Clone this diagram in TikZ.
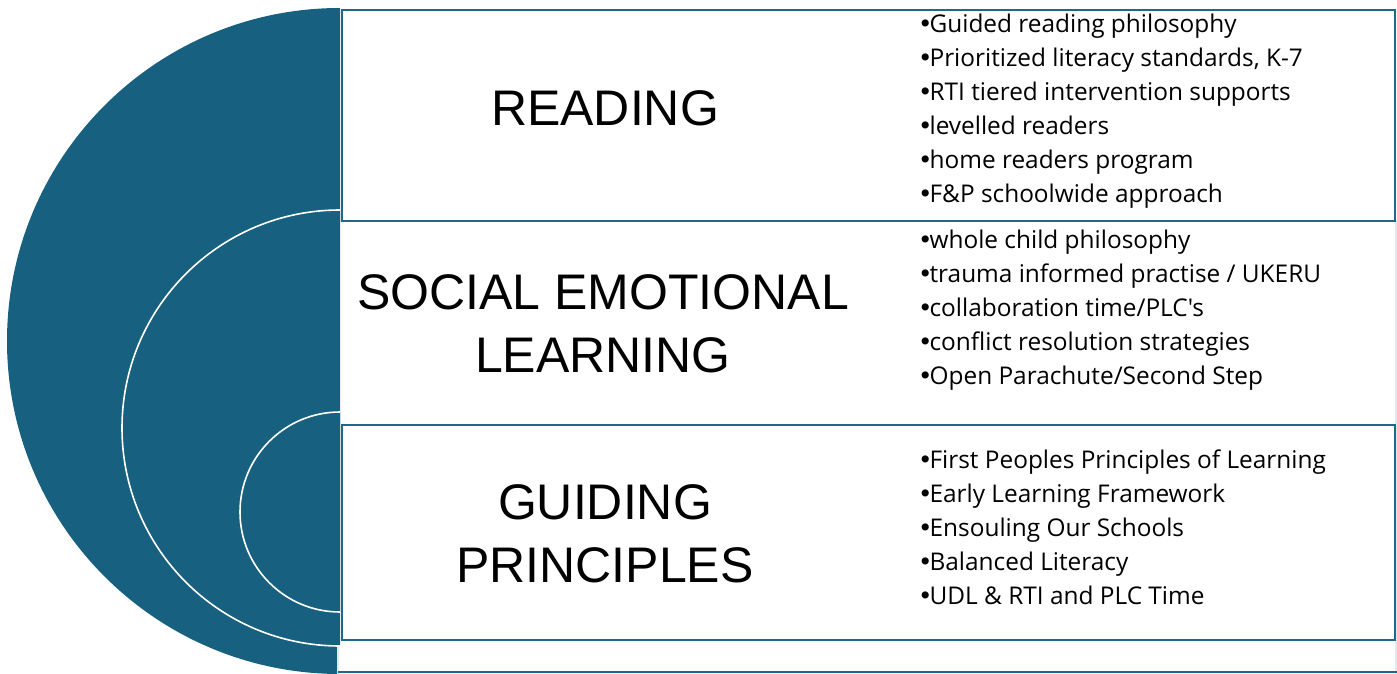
\documentclass[tikz,border=0pt]{standalone}
\usepackage{fontspec}
\setmainfont{Liberation Sans}
\newfontfamily\listfont{Open Sans}
\newfontfamily\bulfont{DejaVu Sans}
\newcommand\bul{{\bulfont\kern-1pt•\kern-3pt}}
\definecolor{deepblue}{RGB}{24,96,128}
\definecolor{boxblue}{RGB}{30,104,138}
\definecolor{paleedge}{RGB}{225,232,238}
\begin{document}
\begin{tikzpicture}[x=1pt,y=-1pt,
  bluebox/.style={draw=boxblue,line width=2pt,fill=white},
  titletext/.style={font=\fontsize{50}{63}\selectfont,align=center,inner sep=0pt},
  listtext/.style={font=\listfont\fontsize{24.4}{34}\selectfont,align=left,inner sep=0pt},
  arcline/.style={draw=white,line width=1.6pt}]
\useasboundingbox (0,0) rectangle (1397,674);
% outer half disc
\fill[deepblue] (340,8) arc[start angle=90,end angle=270,radius=333pt] -- cycle;
% background panel (SEL and lower)
\filldraw[fill=white,draw=paleedge,line width=1.2pt] (338,221) rectangle (1396,680);
% boxes
\node[bluebox,minimum width=1053pt,minimum height=211pt,anchor=north west,inner sep=0pt] (readbox) at (341,9) {};
\node[bluebox,minimum width=1053pt,minimum height=215pt,anchor=north west,inner sep=0pt] (guidebox) at (341,424) {};
\coordinate (stripL) at (338,672);
\coordinate (stripR) at (1397,672);
\draw[boxblue,line width=2pt] (stripL) -- (stripR);
% middle semicircle
\fill[deepblue] (340,210) arc[start angle=90,end angle=270,radius=218pt] -- cycle;
\draw[arcline] (340,210) arc[start angle=90,end angle=270,radius=218pt];
% inner semicircle
\fill[deepblue] (340,412) arc[start angle=90,end angle=270,radius=100pt] -- cycle;
\draw[arcline] (340,412) arc[start angle=90,end angle=270,radius=100pt];
% titles (base = baseline of last line)
\node[titletext,anchor=base] (t1) at (605,126) {READING};
\node[titletext,anchor=base] (t2) at (603,372) {SOCIAL EMOTIONAL\\LEARNING};
\node[titletext,anchor=base] (t3) at (605,582) {GUIDING\\PRINCIPLES};
% lists
\node[listtext,anchor=base west] (l1) at (919,202) {\bul Guided reading philosophy\\\bul Prioritized literacy standards, K-7\\\bul RTI tiered intervention supports\\\bul levelled readers\\\bul home readers program\\\bul F\&P schoolwide approach};
\node[listtext,anchor=base west] (l2) at (919,384) {\bul whole child philosophy\\\bul trauma informed practise / UKERU\\\bul collaboration time/PLC's\\\bul conflict resolution strategies\\\bul Open Parachute/Second Step};
\node[listtext,anchor=base west] (l3) at (919,604) {\bul First Peoples Principles of Learning\\\bul Early Learning Framework\\\bul Ensouling Our Schools\\\bul Balanced Literacy\\\bul UDL \& RTI and PLC Time};
\end{tikzpicture}
\end{document}
